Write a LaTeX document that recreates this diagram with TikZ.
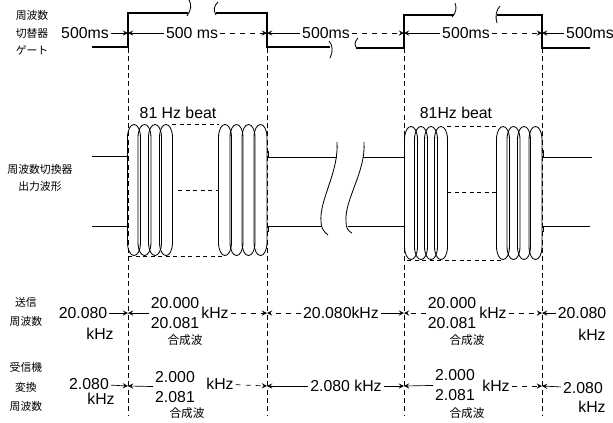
\documentclass[tikz,border=0pt]{standalone}
\usepackage{fontspec}
\setmainfont{Liberation Sans}
\newfontfamily\jpfont{Noto Sans CJK JP}
\tikzset{
  gate/.style={line width=1.3pt},
  wave/.style={line width=0.5pt},
  guide/.style={dash pattern=on 3pt off 2pt, line width=0.4pt},
  beat/.style={dash pattern=on 2.5pt off 2pt, line width=0.5pt},
  val/.style={font=\fontsize{9.5}{11.5}\selectfont, inner sep=1pt, align=center},
  jp/.style={font=\jpfont\fontsize{6.5}{10.5}\selectfont, inner sep=0pt, align=center},
  jpb/.style={font=\jpfont\fontsize{6.5}{11.5}\selectfont, inner sep=0pt, align=center},
  mix/.style={font=\jpfont\fontsize{7}{8}\selectfont, inner sep=0pt},
  dim/.style={->, line width=0.4pt},
}
\begin{document}
\begin{tikzpicture}[>=stealth, x=0.6pt, y=-0.6pt]
  \useasboundingbox (0,0) rectangle (613,422);

  % gate
  \draw[gate] (92,47) -- (128,47) -- (128,13) -- (188,13);
  \draw[wave] (189,0) .. controls (192,5) and (191,10) .. (187,16);
  \draw[wave] (218,2) .. controls (214,6) and (213,10) .. (216,15);
  \draw[gate] (216,13) -- (267,13) -- (267,47) -- (330,47);
  \draw[wave] (329,41) .. controls (333,45) and (333,52) .. (330,58);
  \draw[wave] (358,38) .. controls (354,42) and (354,46) .. (358,49);
  \draw[gate] (356,48) -- (404,48) -- (404,15) -- (454,15);
  \draw[wave] (455,3) .. controls (457,8) and (456,13) .. (452,17);
  \draw[wave] (500,6) .. controls (496,10) and (495,17) .. (497,23);
  \draw[gate] (497,15) -- (542,15) -- (542,48) -- (590,48);

  % guides
  \foreach \x in {128,267,404,542}
    \draw[guide] (\x,48) -- (\x,415);

  % output wave
  \draw[wave] (92,156) -- (127,156);
  \draw[wave] (92,226) -- (127,226) -- (127,232);
  \draw[wave] (268,151) -- (268,157) -- (337,157);
  \draw[wave] (268,232) -- (268,226) -- (321,226);
  \draw[wave] (337,142) .. controls (339,172) and (319,200) .. (321,222)
                       .. controls (321,228) and (324,232) .. (328,235);
  \draw[wave] (364,142) .. controls (366,172) and (344,200) .. (346,222)
                       .. controls (346,228) and (348,231) .. (352,233);
  \draw[wave] (363,157) -- (404,157);
  \draw[wave] (348,226) -- (404,226) -- (404,232);
  \draw[wave] (543,150) -- (543,157) -- (592,157);
  \draw[wave] (543,232) -- (543,226) -- (590,226);

  \foreach \c in {134,144.5,155,166,225,236.5,248.5,260.5}
    \draw[wave] (\c-6.5,138) -- (\c-6.5,242)
      .. controls (\c-6.5,260) and (\c+6.5,260) .. (\c+6.5,242) -- (\c+6.5,138)
      .. controls (\c+6.5,120) and (\c-6.5,120) .. cycle;
  \foreach \c in {411,421,431,441,503,513.5,524,535.5}
    \draw[wave] (\c-6.5,140) -- (\c-6.5,246)
      .. controls (\c-6.5,264) and (\c+6.5,264) .. (\c+6.5,246) -- (\c+6.5,140)
      .. controls (\c+6.5,122) and (\c-6.5,122) .. cycle;
  \draw[beat] (172,124) -- (219,124);
  \draw[beat] (178,190) -- (218,190);
  \draw[beat] (128,256) -- (225,256);
  \draw[beat] (447,126) -- (497,126);
  \draw[beat] (447,192) -- (496,192);
  \draw[beat] (407,260) -- (502,260);

  \node[val] (beatA) at (178,113) {81 Hz beat};
  \node[val] (beatB) at (456,113) {81Hz beat};

  % labels
  \node[jp] (gatelbl) at (32,33) {周波数\\切替器\\ゲート};
  \node[jp] (outlbl) at (40,178) {周波数切換器\\出力波形};
  \node[jpb] (txlbl) at (26,312) {送信\\周波数};
  \node[jpb] (rxlbl) at (26,387) {受信機\\変換\\周波数};

  % 500ms
  \coordinate (g1) at (128,33);
  \coordinate (g2) at (267,33);
  \coordinate (g3) at (404,33);
  \coordinate (g4) at (542,33);
  \node[val] (ms1) at (85,33) {500ms};
  \node[val] (ms2) at (192,33) {500 ms};
  \node[val] (ms3) at (326,33) {500ms};
  \node[val] (ms4) at (466,33) {500ms};
  \node[val] (ms5) at (590,33) {500ms};
  \draw[dim] (ms1) -- (g1);
  \draw[dim] (ms2) -- (g1);
  \draw[dim, dashed] (ms2) -- (g2);
  \draw[dim] (ms3) -- (g2);
  \draw[dim, dashed] (ms3) -- (g3);
  \draw[dim] (ms4) -- (g3);
  \draw[dim, dashed] (ms4) -- (g4);
  \draw[dim] (ms5) -- (g4);

  % transmit
  \coordinate (f1) at (128,313);
  \coordinate (f2) at (267,313);
  \coordinate (f3) at (404,313);
  \coordinate (f4) at (542,313);
  \node[val] (tx1) at (83,313) {20.080};
  \node[val] (tx1k) at (100,334) {kHz};
  \node[val] (tx2) at (175,313) {20.000\\20.081};
  \node[val] (tx2k) at (215,313) {kHz};
  \node[mix] (tx2m) at (185,340) {合成波};
  \node[val] (tx3) at (341,313) {20.080kHz};
  \node[val] (tx4) at (452,313) {20.000\\20.081};
  \node[val] (tx4k) at (493,313) {kHz};
  \node[mix] (tx4m) at (467,340) {合成波};
  \node[val] (tx5) at (582,313) {20.080};
  \node[val] (tx5k) at (592,335) {kHz};
  \draw[dim] (tx1) -- (f1);
  \draw[dim] (tx2) -- (f1);
  \draw[dim, dashed] (tx2k) -- (f2);
  \draw[dim, dashed] (tx3) -- (f2);
  \draw[dim] (tx3) -- (f3);
  \draw[dim, dashed] (tx4) -- (f3);
  \draw[dim, dashed] (tx4k) -- (f4);
  \draw[dim] (tx5) -- (f4);

  % receive
  \coordinate (r1) at (128,386);
  \coordinate (r2) at (267,386);
  \coordinate (r3) at (404,386);
  \coordinate (r4) at (542,386);
  \node[val] (rx1) at (89,384) {2.080};
  \node[val] (rx1k) at (101,399) {kHz};
  \node[val] (rx2) at (175,387) {2.000\\2.081};
  \node[val] (rx2k) at (220,384) {kHz};
  \node[mix] (rx2m) at (187,413) {合成波};
  \node[val] (rx3) at (346,386) {2.080 kHz};
  \node[val] (rx4) at (455,385) {2.000\\2.081};
  \node[val] (rx4k) at (496,386) {kHz};
  \node[mix] (rx4m) at (467,413) {合成波};
  \node[val] (rx5) at (583,388) {2.080};
  \node[val] (rx5k) at (592,407) {kHz};
  \draw[dim] (rx1) -- (r1);
  \draw[dim] (rx2) -- (r1);
  \draw[dim, dashed] (rx2k) -- (r2);
  \draw[dim] (rx3) -- (r2);
  \draw[dim] (rx3) -- (r3);
  \draw[dim] (rx4) -- (r3);
  \draw[dim, dashed] (rx4k) -- (r4);
  \draw[dim] (rx5) -- (r4);
\end{tikzpicture}
\end{document}
